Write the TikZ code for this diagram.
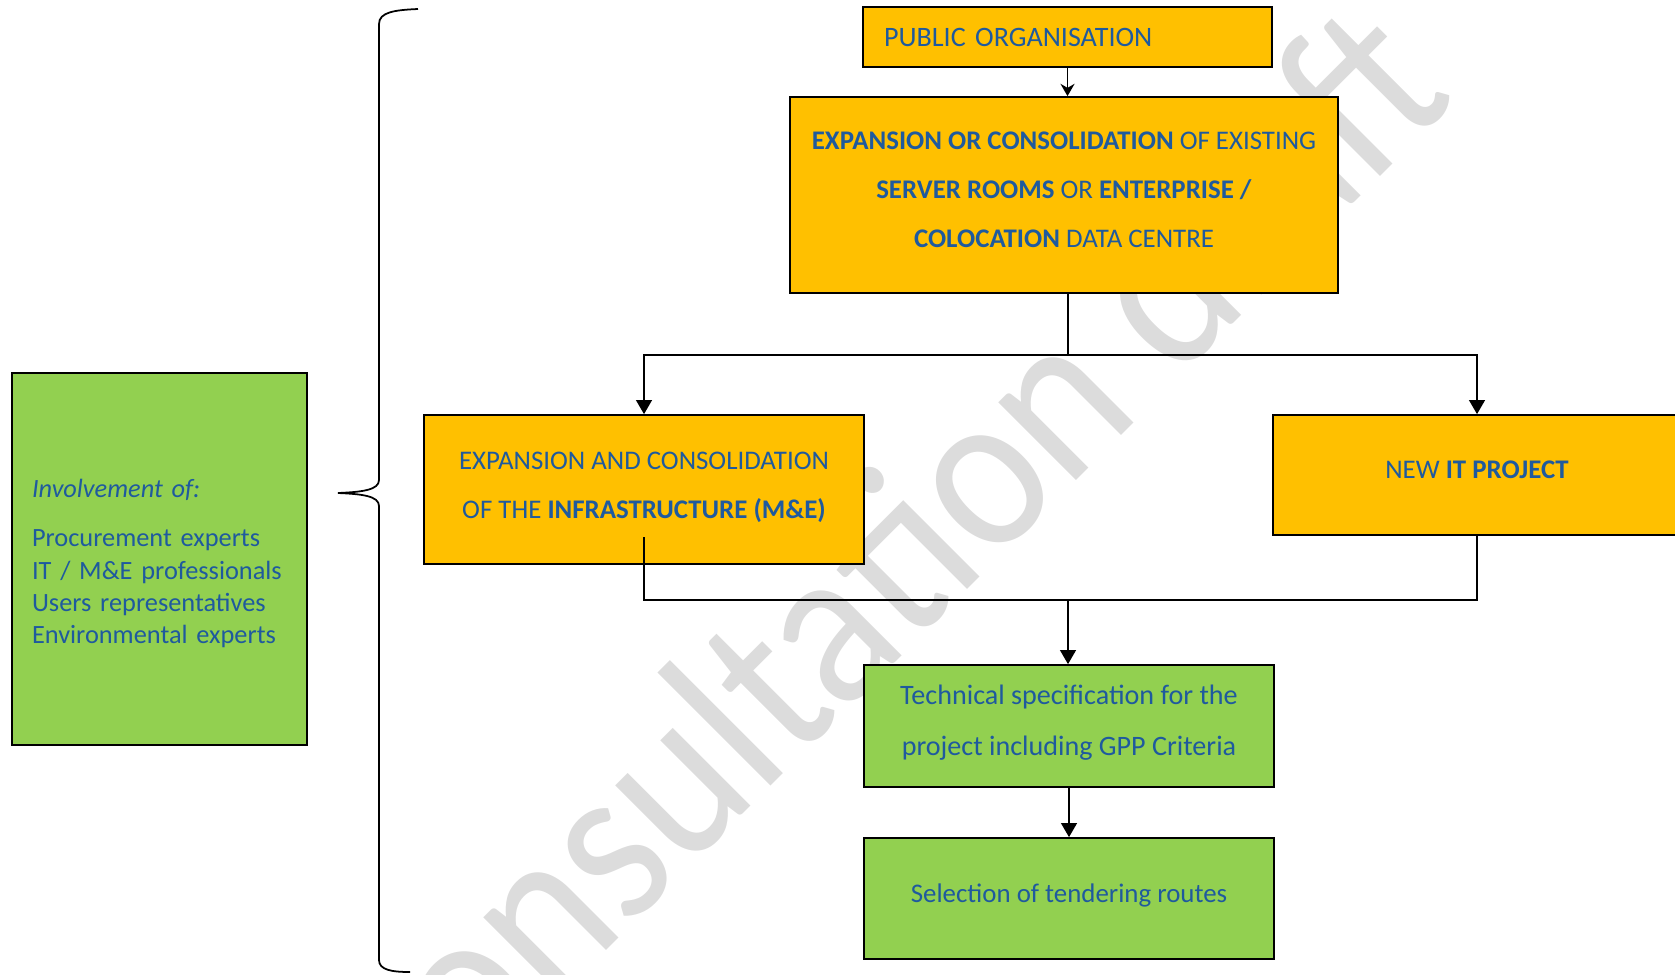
\documentclass[tikz,border=0pt]{standalone}
\usepackage{fontspec}
\setmainfont{Carlito}
\usetikzlibrary{arrows.meta}

\definecolor{boxgold}{HTML}{FFC000}
\definecolor{boxgreen}{HTML}{92D050}
\definecolor{textblue}{HTML}{1F5A9E}
\definecolor{wmgray}{HTML}{DCDCDC}

% invisible strut that lifts (depth) or lowers (height) a box text
\newcommand{\lowstrut}[1]{\rule[-#1]{0pt}{0pt}}
\newcommand{\highstrut}[1]{\rule{0pt}{#1}}

\tikzset{
  goldbox/.style={draw=black, line width=1pt, fill=boxgold, text=textblue, align=center, inner sep=0pt},
  greenbox/.style={draw=black, line width=1pt, fill=boxgreen, text=textblue, align=center, inner sep=0pt},
  link/.style={line width=1pt},
  flow/.style={line width=1pt, -{Triangle[length=8pt,width=9pt]}},
}

\begin{document}
\begin{tikzpicture}[x=0.02cm, y=-0.02cm, font=\fontsize{15.3}{27.8}\selectfont]
\useasboundingbox (0,0) rectangle (1675,974);
\clip (0,0) rectangle (1675,974);

% Watermark, behind the boxes
\node[text=wmgray, font=\fontsize{117}{117}\selectfont, anchor=base west, rotate=45, yscale=1.12, inner sep=0pt] (wm) at (397,1160) {Consultation draft};

% Main chain
\node[goldbox, minimum width=8.18cm, minimum height=1.2cm, text width=7.34cm, align=left, inner xsep=0.42cm, font=\fontsize{16}{20}\selectfont] (pub) at (1067.5,37) {PUBLIC ORGANISATION};
\node[goldbox, minimum width=10.96cm, minimum height=3.92cm] (big) at (1064,195)
  {\textbf{EXPANSION OR CONSOLIDATION} OF EXISTING\\
   \textbf{SERVER ROOMS} OR \textbf{ENTERPRISE /}\\
   \textbf{COLOCATION} DATA CENTRE\lowstrut{6pt}};

% The two branches
\node[goldbox, minimum width=8.8cm, minimum height=2.98cm] (ms) at (644,489.5)
  {EXPANSION AND CONSOLIDATION\\ OF THE \textbf{INFRASTRUCTURE (M\&E)}\lowstrut{5pt}};
\node[goldbox, minimum width=8.16cm, minimum height=2.4cm] (newit) at (1477,475) {NEW \textbf{IT PROJECT}\lowstrut{6pt}};

% Specification and tendering
\node[greenbox, minimum width=8.2cm, minimum height=2.44cm, font=\fontsize{16}{29}\selectfont] (tech) at (1069,726)
  {Technical specification for the\\ project including GPP Criteria\lowstrut{6.3pt}};
\node[greenbox, minimum width=8.2cm, minimum height=2.42cm] (sel) at (1069,898.5) {Selection of tendering routes\lowstrut{6.6pt}};

% Who takes part
\node[greenbox, minimum width=5.9cm, minimum height=7.44cm, text width=5.1cm, align=left, font=\fontsize{15}{18.4}\selectfont] (team) at (159.5,559)
  {\highstrut{15.8pt}\textit{Involvement of:}\\[9.6pt]
   Procurement experts\\
   IT / M\&E professionals\\
   Users representatives\\
   Environmental experts};

% Connectors
\coordinate (fork) at (1068,355);
\coordinate (msstub) at (644,537);
\coordinate (join) at (1068,600);
\draw[link, -{Stealth[length=7pt,width=8pt]}] (pub.south) -- (pub.south |- big.north);
\draw[link] (fork |- big.south) -- (fork);
\draw[flow] (fork) -| (ms.north);
\draw[flow] (fork) -| (newit.north);
\draw[link] (msstub) |- (join) -| (newit.south);
\draw[flow] (join) -- (join |- tech.north);
\draw[flow] (tech.south) -- (sel.north);

% Brace pointing at the team box
\draw[line width=1pt] (418,9) .. controls (395,10) and (379,12) .. (379,24) -- (379,480)
  .. controls (379,490) and (362,492) .. (338,493)
  .. controls (362,494) and (379,496) .. (379,506) -- (379,960)
  .. controls (379,970) and (392,972) .. (410,972);

\end{tikzpicture}
\end{document}
